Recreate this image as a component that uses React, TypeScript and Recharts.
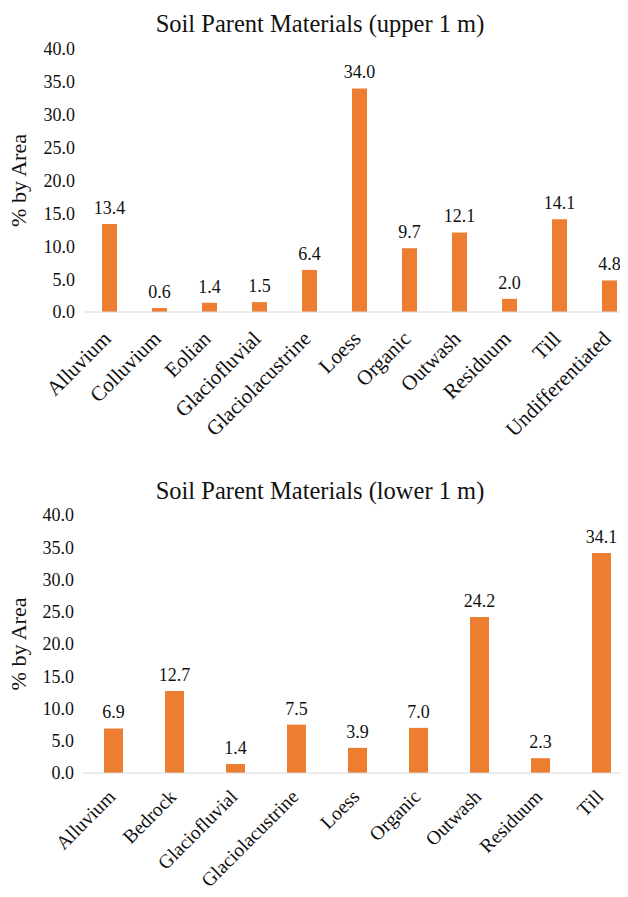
import React from "react";
import { BarChart, Bar, XAxis, YAxis, LabelList } from "recharts";

const upperTitle = "Soil Parent Materials (upper 1 m)";
const upperCategories = [
  "Alluvium",
  "Colluvium",
  "Eolian",
  "Glaciofluvial",
  "Glaciolacustrine",
  "Loess",
  "Organic",
  "Outwash",
  "Residuum",
  "Till",
  "Undifferentiated",
];
const upperValues = [13.4, 0.6, 1.4, 1.5, 6.4, 34.0, 9.7, 12.1, 2.0, 14.1, 4.8];

const lowerTitle = "Soil Parent Materials (lower 1 m)";
const lowerCategories = [
  "Alluvium",
  "Bedrock",
  "Glaciofluvial",
  "Glaciolacustrine",
  "Loess",
  "Organic",
  "Outwash",
  "Residuum",
  "Till",
];
const lowerValues = [6.9, 12.7, 1.4, 7.5, 3.9, 7.0, 24.2, 2.3, 34.1];

const yTicks = [0, 5, 10, 15, 20, 25, 30, 35, 40];
const yAxisTitle = "% by Area";

const FONT = "Liberation Serif, Tinos, Nimbus Roman, Times, DejaVu Serif";
const TEXT = "#111111";
const BAR = "#ED7D31";

type TickProps = { x?: number; y?: number; payload?: { value: string } };

const makeXTick = (dy: number, size: number) => (props: TickProps) => {
  const { x = 0, y = 0, payload } = props;
  return (
    <g transform={`translate(${x + 3},${y + dy})`}>
      <text
        x={0}
        y={0}
        textAnchor="end"
        transform="rotate(-45)"
        style={{ fontFamily: FONT }}
        fontSize={size}
        fill={TEXT}
      >
        {payload ? payload.value : ""}
      </text>
    </g>
  );
};

const makeYLabel = () => (props: any) => {
  const vb = props.viewBox || {};
  const cy = (vb.y || 0) + (vb.height || 0) / 2;
  const cx = 18;
  return (
    <text
      x={cx}
      y={cy}
      textAnchor="middle"
      dominantBaseline="central"
      transform={`rotate(-90, ${cx}, ${cy})`}
      style={{ fontFamily: FONT }}
      fontSize={22}
      fill={TEXT}
    >
      {yAxisTitle}
    </text>
  );
};

type PanelProps = {
  title: string;
  categories: string[];
  values: number[];
  top: number;
  height: number;
  marginTop: number;
  marginRight: number;
  yWidth: number;
  xHeight: number;
  barSize: number;
  tickDy: number;
  tickSize: number;
  titleTop: number;
};

function Panel(p: PanelProps) {
  const data = p.categories.map((c, i) => ({ name: c, value: p.values[i] }));
  return (
    <div style={{ position: "absolute", left: 0, top: p.top, width: 640, height: p.height }}>
      <div
        style={{
          position: "absolute",
          left: 0,
          top: p.titleTop,
          width: 640,
          textAlign: "center",
          fontFamily: FONT,
          fontSize: 24.5,
          lineHeight: "28px",
          color: TEXT,
        }}
      >
        {p.title}
      </div>
      <BarChart
        width={640}
        height={p.height}
        data={data}
        margin={{ top: p.marginTop, right: p.marginRight, bottom: 0, left: 0 }}
      >
        <YAxis
          width={p.yWidth}
          domain={[0, 40]}
          ticks={yTicks}
          interval={0}
          axisLine={false}
          tickLine={false}
          tickMargin={3}
          tickFormatter={(v: number) => v.toFixed(1)}
          tick={{ style: { fontFamily: FONT }, fontSize: 18, fill: TEXT } as any}
          label={{ content: makeYLabel() } as any}
        />
        <XAxis
          dataKey="name"
          height={p.xHeight}
          interval={0}
          axisLine={{ stroke: "#d9d9d9", strokeWidth: 1 }}
          tickLine={false}
          tick={makeXTick(p.tickDy, p.tickSize) as any}
        />
        <Bar dataKey="value" fill={BAR} barSize={p.barSize} isAnimationActive={false}>
          <LabelList
            dataKey="value"
            position="top"
            offset={10}
            formatter={(v: any) => Number(v).toFixed(1)}
            style={{ fontFamily: FONT, fontSize: 18, fill: TEXT }}
          />
        </Bar>
      </BarChart>
    </div>
  );
}

export default function App() {
  return (
    <div
      style={{
        position: "relative",
        width: 628,
        height: 897,
        overflow: "hidden",
        marginLeft: -8,
        marginTop: -8,
        background: "#fff",
      }}
    >
      <Panel
        title={upperTitle}
        categories={upperCategories}
        values={upperValues}
        top={0}
        height={460}
        marginTop={49}
        marginRight={6}
        yWidth={84}
        xHeight={148}
        barSize={15}
        tickDy={20}
        tickSize={21}
        titleTop={10}
      />
      <Panel
        title={lowerTitle}
        categories={lowerCategories}
        values={lowerValues}
        top={460}
        height={437}
        marginTop={55}
        marginRight={8}
        yWidth={83}
        xHeight={124}
        barSize={19}
        tickDy={17}
        tickSize={19.5}
        titleTop={17}
      />
    </div>
  );
}
